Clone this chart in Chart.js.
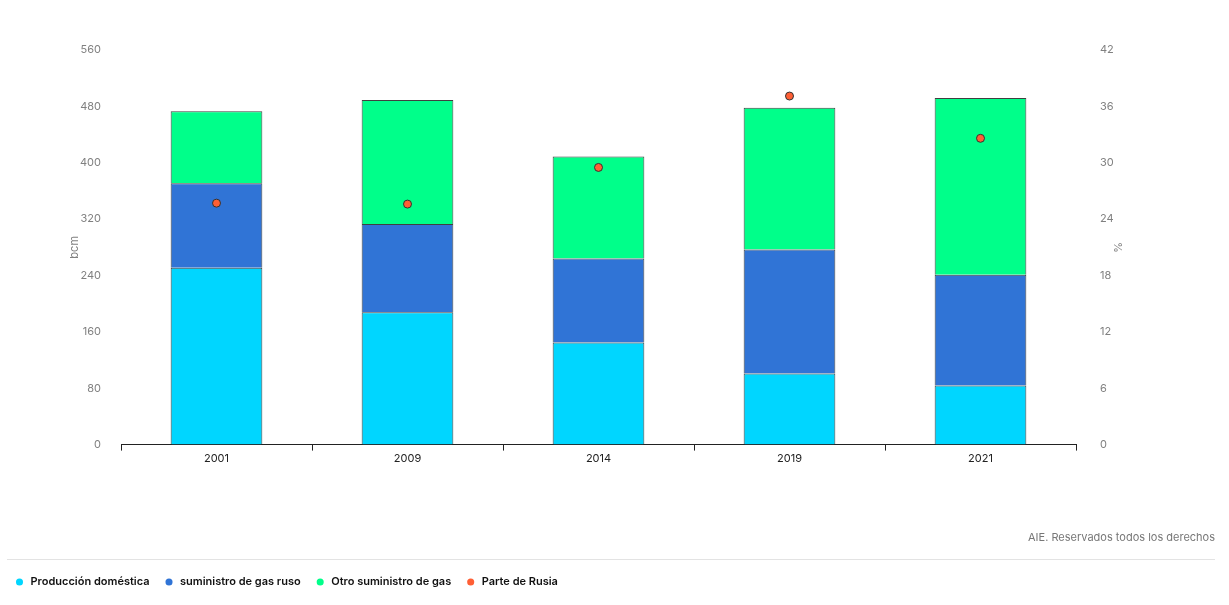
<!DOCTYPE html>
<html>
<head>
<meta charset="utf-8">
<script src="https://cdn.jsdelivr.net/npm/chart.js@4/dist/chart.umd.min.js"></script>
<style>
  body { margin: 0; background: #fff; font-family: Inter, sans-serif; }
  #wrap { position: relative; width: 1229px; height: 605px; }
  #sep { position: absolute; left: 7px; top: 559px; width: 1208px; height: 1px; background: #e3e3e3; }
</style>
</head>
<body>
<div id="wrap">
  <canvas id="myChart" width="1229" height="605"></canvas>
  <div id="sep"></div>
</div>
<script>
const years = ["2001", "2009", "2014", "2019", "2021"];
const domestic = [251, 188, 145, 101, 84];
const russian = [120, 125, 119, 176, 157];
const other = [102, 176, 145, 201, 251];
const russiaShare = [25.7, 25.6, 29.5, 37.1, 32.6];

document.addEventListener("DOMContentLoaded", chart);

function chart() {
  const ctx = document.getElementById("myChart");
  Chart.defaults.font.family = "Inter, sans-serif";
  Chart.defaults.font.size = 11;

  new Chart(ctx, {
    type: "bar",
    data: {
      labels: years,
      datasets: [
        {
          label: "Producción doméstica",
          data: domestic,
          backgroundColor: "#00D6FF",
          borderColor: "rgba(30,30,30,0.85)",
          borderWidth: 1,
          order: 1,
        },
        {
          label: "suministro de gas ruso",
          data: russian,
          backgroundColor: "#3074D6",
          borderColor: "rgba(30,30,30,0.85)",
          borderWidth: 1,
          order: 1,
        },
        {
          label: "Otro suministro de gas",
          data: other,
          backgroundColor: "#00FF8A",
          borderColor: "rgba(30,30,30,0.85)",
          borderWidth: 1,
          order: 1,
        },
        {
          type: "line",
          label: "Parte de Rusia",
          data: russiaShare,
          yAxisID: "y1",
          showLine: false,
          backgroundColor: "#FF5F35",
          borderColor: "#333",
          pointBackgroundColor: "#FF5F35",
          pointBorderColor: "#333",
          pointBorderWidth: 1,
          pointRadius: 4,
          order: 0,
        },
      ],
    },
    options: {
      responsive: false,
      animation: false,
      barPercentage: 0.96,
      categoryPercentage: 0.5,
      layout: { padding: { left: 0, right: 14, top: 50, bottom: 7.5 } },
      plugins: {
        tooltip: { enabled: false },
        title: {
          display: true,
          text: "AIE. Reservados todos los derechos",
          position: "bottom",
          align: "end",
          weight: 500,
          color: "#777",
          font: { size: 11, weight: "normal" },
          padding: { top: 65, bottom: 18.5 },
        },
        legend: {
          position: "bottom",
          align: "start",
          labels: {
            usePointStyle: true,
            pointStyle: "circle",
            boxWidth: 11,
            boxHeight: 5,
            padding: 14,
            color: "#111",
            font: { size: 11, weight: "600" },
            sort: (a, b) => a.datasetIndex - b.datasetIndex,
            generateLabels: (c) =>
              Chart.defaults.plugins.legend.labels.generateLabels(c).map((l) => {
                l.lineWidth = 0;
                l.strokeStyle = "rgba(0,0,0,0)";
                return l;
              }),
          },
        },
      },
      scales: {
        x: {
          stacked: true,
          offset: true,
          grid: { display: true, drawOnChartArea: false, drawTicks: true, tickLength: 6, color: "#222", offset: true },
          border: { display: true, color: "#222", width: 1 },
          ticks: { color: "#222", font: { size: 11 }, padding: 1 },
        },
        y: {
          stacked: true,
          min: 0,
          max: 560,
          afterFit: (scale) => { scale.width = 121; },
          grid: { display: false },
          border: { display: false },
          ticks: { stepSize: 80, color: "#808080", padding: 12, font: { size: 11 } },
          title: { display: true, text: "bcm", color: "#808080", font: { size: 11 }, padding: { top: 68, bottom: 0 } },
        },
        y1: {
          position: "right",
          min: 0,
          max: 42,
          afterFit: (scale) => { scale.width = 139; },
          grid: { display: false },
          border: { display: false },
          ticks: { stepSize: 6, color: "#808080", padding: 16, font: { size: 11 } },
          title: { display: true, text: "%", color: "#808080", font: { size: 11 }, padding: { top: 91, bottom: 0 } },
        },
      },
    },
  });
}
</script>
</body>
</html>
